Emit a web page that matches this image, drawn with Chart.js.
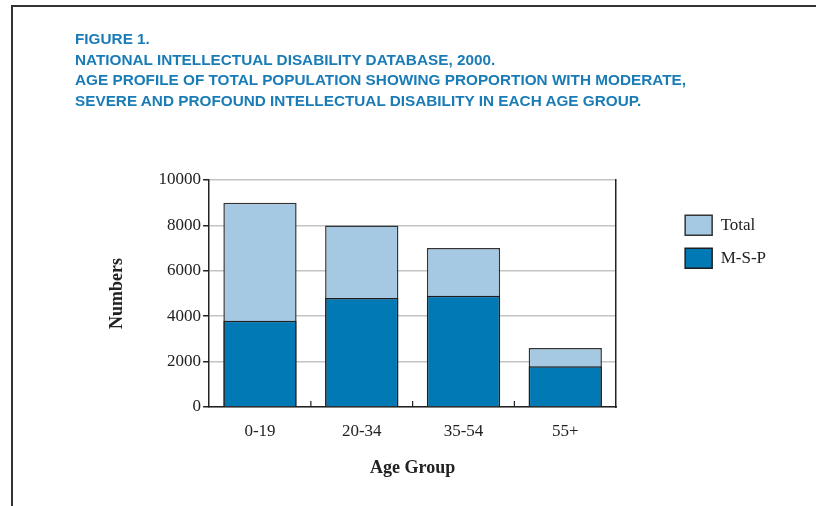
<!DOCTYPE html>
<html>
<head>
<meta charset="utf-8">
<script src="https://cdn.jsdelivr.net/npm/chart.js@4.4.1/dist/chart.umd.min.js"></script>
<style>
  html, body { margin: 0; padding: 0; background: #fff; }
  #wrap { position: relative; width: 816px; height: 506px; overflow: hidden; }
  #frame { position: absolute; left: 11px; top: 5px; width: 900px; height: 600px;
           border-top: 2px solid #333; border-left: 2px solid #333; }
  #title { position: absolute; left: 75px; top: 29px; margin: 0;
           font-family: "Liberation Sans", Arial, sans-serif;
           font-weight: bold; font-size: 15px; line-height: 20.7px; color: #1a7cb6; white-space: nowrap;
           transform-origin: 0 0; }
  #title span { display: block; }
  #c { position: absolute; left: 0; top: 0; }
</style>
</head>
<body>
<div id="wrap">
  <div id="frame"></div>
  <canvas id="c" width="816" height="506"></canvas>
  <div id="title"><span>FIGURE 1.</span><span>NATIONAL INTELLECTUAL DISABILITY DATABASE, 2000.</span><span id="tl3">AGE PROFILE OF TOTAL POPULATION SHOWING PROPORTION WITH MODERATE,</span><span>SEVERE AND PROFOUND INTELLECTUAL DISABILITY IN EACH AGE GROUP.</span></div>
</div>
<script>
const categories = ["0-19", "20-34", "35-54", "55+"];
const totalValues = [9000, 8000, 7000, 2600];
const mspValues = [3800, 4800, 4900, 1800];
const yTicks = [0, 2000, 4000, 6000, 8000, 10000];

const SERIF = '"Liberation Serif", "DejaVu Serif", serif';

// condense the title to the reference's line width
(function () {
  const t = document.getElementById('title');
  const l3 = document.getElementById('tl3');
  const w = l3.getBoundingClientRect().width;
  t.style.transform = 'scaleX(' + (611 / w) + ')';
})();

const innerTicks = {
  id: 'innerTicks',
  afterDatasetsDraw(chart) {
    const x = chart.scales.x, ctx = chart.ctx, bottom = chart.chartArea.bottom;
    ctx.save();
    ctx.strokeStyle = '#222';
    ctx.lineWidth = 1.2;
    for (let i = 1; i < categories.length; i++) {
      const px = (x.getPixelForValue(i - 1) + x.getPixelForValue(i)) / 2;
      ctx.beginPath();
      ctx.moveTo(px, bottom);
      ctx.lineTo(px, bottom - 6);
      ctx.stroke();
    }
    ctx.restore();
  }
};

new Chart(document.getElementById('c'), {
  type: 'bar',
  data: {
    labels: categories,
    datasets: [
      { label: 'M-S-P', data: mspValues, backgroundColor: '#0079b4', borderColor: '#1e1e1e', borderWidth: 1.5 },
      { label: 'Total', data: totalValues, backgroundColor: '#a6c9e3', borderColor: '#333', borderWidth: 1.5 }
    ]
  },
  options: {
    responsive: false,
    animation: false,
    devicePixelRatio: 1,
    categoryPercentage: 1,
    barPercentage: 0.72,
    layout: { padding: { top: 180, left: 107, right: 40, bottom: 27 } },
    plugins: {
      tooltip: { enabled: false },
      legend: {
        position: 'right',
        align: 'start',
        reverse: true,
        title: { display: true, text: ' ', font: { size: 1 }, padding: { top: 21, bottom: 0 } },
        labels: {
          boxWidth: 27, boxHeight: 20, padding: 13, color: '#222',
          font: { family: SERIF, size: 17 }
        }
      }
    },
    scales: {
      x: {
        stacked: true,
        grid: { display: true, drawOnChartArea: false, drawTicks: false },
        border: { color: '#222', width: 1.5 },
        ticks: { color: '#222', padding: 14, font: { family: SERIF, size: 17 } },
        title: { display: true, text: 'Age Group', color: '#222', padding: { top: 2, bottom: 0 },
                 font: { family: SERIF, size: 18, weight: 'bold' } }
      },
      y: {
        stacked: false,
        min: 0, max: 10000,
        afterBuildTicks(s) { s.ticks = yTicks.map(v => ({ value: v })); },
        grid: { color: '#c4c4c4', lineWidth: 1.5, tickColor: '#222', tickLength: 6 },
        border: { color: '#222', width: 1.5 },
        ticks: { color: '#222', padding: 2, font: { family: SERIF, size: 17 },
                 callback: v => String(v) },
        title: { display: true, text: 'Numbers', color: '#222', padding: { top: 0, bottom: 28 },
                 font: { family: SERIF, size: 18, weight: 'bold' } }
      },
      y2: {
        position: 'right',
        grid: { drawOnChartArea: false, drawTicks: false },
        border: { color: '#222', width: 1.5 },
        ticks: { display: false },
        afterFit(s) { s.width = 56; }
      }
    }
  },
  plugins: [innerTicks]
});
</script>
</body>
</html>
